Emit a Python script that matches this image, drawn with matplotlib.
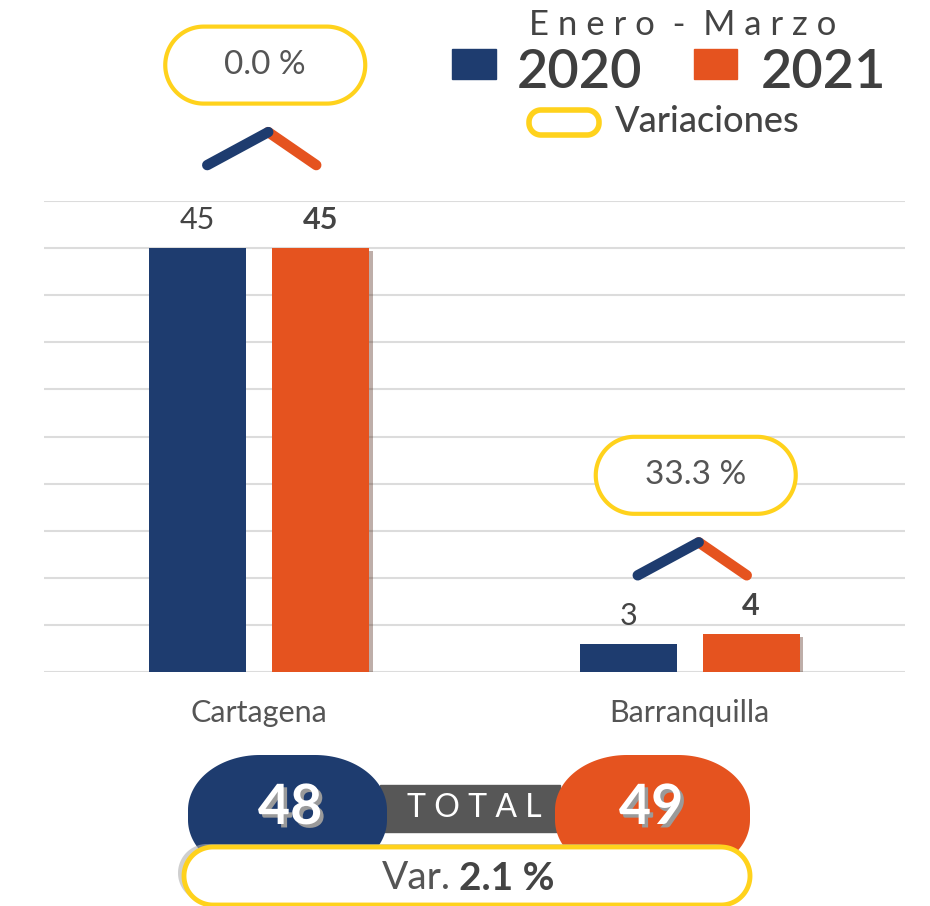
import numpy as np
import matplotlib.pyplot as plt
from matplotlib.patches import Polygon, Rectangle
import matplotlib.patheffects as pe

plt.rcParams['font.family'] = ['Lato', 'DejaVu Sans']

# data
cities = ['Cartagena', 'Barranquilla']
values_2020 = [45, 3]
values_2021 = [45, 4]
years = ['2020', '2021']
period = 'Enero - Marzo'

BLUE = '#1e3c6f'
ORANGE = '#e5531f'
YELLOW = '#ffd21c'
DARK = '#444444'
GREY = '#555555'

W, H = 930, 906
fig = plt.figure(figsize=(W / 100, H / 100), dpi=100)
ax = fig.add_axes([44 / W, 1 - 672 / H, 861 / W, 471 / H])

x = np.arange(len(cities))
off, bw = 0.1427, 0.225
ax.bar(x - off, values_2020, bw, color=BLUE, zorder=3)
ax.bar(x + off, values_2021, bw, color=ORANGE, zorder=3,
       path_effects=[pe.SimplePatchShadow(offset=(2.5, -2), alpha=0.35), pe.Normal()])

ax.set_xlim(-0.5, 1.5)
ax.set_ylim(0, 50)
ax.set_yticks(np.arange(0, 51, 5))
ax.grid(axis='y', color='#dcdcdc', lw=1.5)
ax.set_axisbelow(True)
for s in ax.spines.values():
    s.set_visible(False)
ax.tick_params(left=False, labelleft=False, bottom=False, pad=16)
ax.set_xticks(x)
ax.set_xticklabels(cities, fontsize=22, color=GREY)

for xi, a, b in zip(x, values_2020, values_2021):
    ax.annotate(str(a), (xi - off, a), xytext=(0, 10), textcoords='offset points',
                ha='center', va='bottom', fontsize=22, color=DARK)
    ax.annotate(str(b), (xi + off, b), xytext=(0, 10), textcoords='offset points',
                ha='center', va='bottom', fontsize=22, color=DARK, fontweight='bold')

# overlay in pixel coordinates for decorations
ov = fig.add_axes([0, 0, 1, 1])
ov.set_xlim(0, W)
ov.set_ylim(H, 0)
ov.axis('off')


def to_px(xd, yd):
    return ov.transData.inverted().transform(ax.transData.transform((xd, yd)))


def rrect(x0, y0, w, h, rx, ry, n=40, **kw):
    corners = [(x0 + w - rx, y0 + h - ry, 0), (x0 + rx, y0 + h - ry, 90),
               (x0 + rx, y0 + ry, 180), (x0 + w - rx, y0 + ry, 270)]
    pts = []
    for cx, cy, a in corners:
        t = np.radians(np.linspace(a, a + 90, n))
        pts.append(np.column_stack([cx + rx * np.cos(t), cy + ry * np.sin(t)]))
    p = Polygon(np.vstack(pts), closed=True, **kw)
    ov.add_patch(p)
    return p


def pill(cx, cy, w, h, **kw):
    return rrect(cx - w / 2, cy - h / 2, w, h, h / 2, h / 2, **kw)


# variation pills + chevrons above each city
lift_px = [83, 59]
for xi, a, b, lift in zip(x, values_2020, values_2021, lift_px):
    cx, top = to_px(xi, max(a, b))
    base = top - lift
    peak = base - 33
    ov.plot([cx + 9, cx + 57], [peak, base], color=ORANGE, lw=7.5,
            solid_capstyle='round', zorder=3)
    ov.plot([cx - 52, cx + 9], [base, peak], color=BLUE, lw=7.5,
            solid_capstyle='round', zorder=4)
    var = (b - a) / a * 100
    pcy = base - 100
    pill(cx + 6, pcy, 200, 77, fc='white', ec=YELLOW, lw=3, zorder=2)
    ov.text(cx + 6, pcy, f'{var:.1f} %', ha='center', va='center',
            fontsize=24, color=GREY, zorder=5)

# legend
ov.text(683, 25, ' '.join(period.replace(' - ', '-')).replace('-', ' - '),
        ha='center', va='center', fontsize=25, color=DARK)
ov.add_patch(Rectangle((452, 49), 44, 30, color=BLUE))
ov.add_patch(Rectangle((694, 49), 43, 30, color=ORANGE))
ov.text(517, 73, years[0], ha='left', va='center', fontsize=39,
        color='#3f3f3f', fontweight='semibold')
ov.text(761, 73, years[1], ha='left', va='center', fontsize=39,
        color='#3f3f3f', fontweight='semibold')
rrect(529, 110, 70, 25, 12, 12, fc='white', ec=YELLOW, lw=4)
ov.text(615, 121, 'Variaciones', ha='left', va='center', fontsize=26,
        color=DARK, fontweight='medium')

# totals
t20, t21 = sum(values_2020), sum(values_2021)
tvar = (t21 - t20) / t20 * 100
ov.add_patch(Rectangle((380, 785), 180, 47, color='#575757', zorder=1))
rrect(188, 755, 199, 120, 72, 55, fc=BLUE, ec='none', zorder=2)
rrect(555, 755, 195, 120, 72, 55, fc=ORANGE, ec='none', zorder=2)
shadow = [pe.SimplePatchShadow(offset=(2.5, -2.5), shadow_rgbFace='#9a9a9a', alpha=1),
          pe.Normal()]
ov.text(290, 808, str(t20), ha='center', va='center', fontsize=40,
        fontweight='bold', color='white', path_effects=shadow, zorder=6)
ov.text(651, 808, str(t21), ha='center', va='center', fontsize=40,
        fontweight='bold', color='white', path_effects=shadow, zorder=6)
ov.text(474, 808, ' '.join('TOTAL'), ha='center', va='center', fontsize=23,
        color='white', zorder=6)

pill(461, 873, 566, 58, fc='#b0b0b0', ec='none', zorder=3, alpha=0.6)
pill(467, 876, 566, 58, fc='white', ec=YELLOW, lw=3.5, zorder=4)
ov.text(451, 878, 'Var.', ha='right', va='center', fontsize=28, color=GREY, zorder=6)
ov.text(459, 878, f'{tvar:.1f} %', ha='left', va='center', fontsize=28,
        color=DARK, fontweight='bold', zorder=6)

fig.savefig('out.png', dpi=100)
